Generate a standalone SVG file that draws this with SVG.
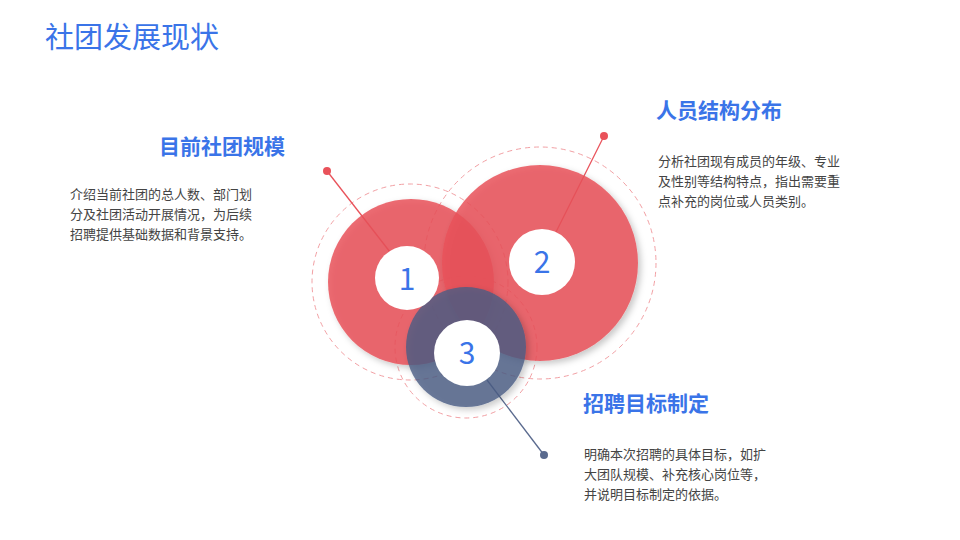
<svg xmlns="http://www.w3.org/2000/svg" width="960" height="540" viewBox="0 0 960 540">
<style>
.t{font-family:"Noto Sans CJK SC","Noto Sans",sans-serif}
.h{font-size:21px;font-weight:bold;fill:#3a74e8}
.b{font-size:13px;fill:#444}
.n{font-size:30px;fill:#3a74e8;text-anchor:middle}
.d{fill:none;stroke:#f2a0a4;stroke-width:1;stroke-dasharray:5 4}
.w{fill:#fff}
</style>
<defs><filter id="s" x="-20%" y="-20%" width="150%" height="150%"><feDropShadow dx="3" dy="3" stdDeviation="3" flood-color="#000" flood-opacity="0.25"/></filter></defs>
<rect width="960" height="540" fill="#fff"/>
<text class="t" x="45" y="48" font-size="29" fill="#3a74e8">社团发展现状</text>
<g id="rings">
<circle class="d" cx="410" cy="282" r="98"/>
<circle class="d" cx="540" cy="263" r="116"/>
<circle class="d" cx="466" cy="347" r="71"/>
</g>
<g id="connectors" stroke-width="1.3">
<line x1="327" y1="171" x2="390" y2="252" stroke="#e9525a"/>
<line x1="604" y1="136" x2="556" y2="232" stroke="#e9525a"/>
<line x1="544" y1="455" x2="487" y2="380" stroke="#5a6a8e"/>
<circle cx="327" cy="171" r="4" fill="#e9525a"/>
<circle cx="604" cy="136" r="4" fill="#e9525a"/>
<circle cx="544" cy="455" r="4" fill="#5a6a8e"/>
</g>
<g id="node1"><circle cx="411" cy="282" r="83" fill="#e9525a" fill-opacity="0.85" filter="url(#s)"/></g>
<g id="node2"><circle cx="540" cy="263" r="98" fill="#e9525a" fill-opacity="0.85" filter="url(#s)"/></g>
<g id="node3"><circle cx="466" cy="347" r="60" fill="#4a5d85" fill-opacity="0.8" filter="url(#s)"/></g>
<g id="labels">
<circle class="w" cx="407" cy="278" r="32"/><text class="t n" x="407" y="290">1</text>
<circle class="w" cx="542" cy="262" r="33"/><text class="t n" x="542" y="273">2</text>
<circle class="w" cx="467" cy="353" r="33"/><text class="t n" x="467" y="364">3</text>
</g>
<g id="text1">
<text class="t h" x="285" y="154" text-anchor="end">目前社团规模</text>
<text class="t b" x="70" y="199">介绍当前社团的总人数、部门划</text>
<text class="t b" x="70" y="219">分及社团活动开展情况，为后续</text>
<text class="t b" x="70" y="239">招聘提供基础数据和背景支持。</text>
</g>
<g id="text2">
<text class="t h" x="656" y="118">人员结构分布</text>
<text class="t b" x="658" y="166">分析社团现有成员的年级、专业</text>
<text class="t b" x="658" y="186">及性别等结构特点，指出需要重</text>
<text class="t b" x="658" y="206">点补充的岗位或人员类别。</text>
</g>
<g id="text3">
<text class="t h" x="583" y="411">招聘目标制定</text>
<text class="t b" x="584" y="459">明确本次招聘的具体目标，如扩</text>
<text class="t b" x="584" y="479">大团队规模、补充核心岗位等，</text>
<text class="t b" x="584" y="499">并说明目标制定的依据。</text>
</g>
</svg>
